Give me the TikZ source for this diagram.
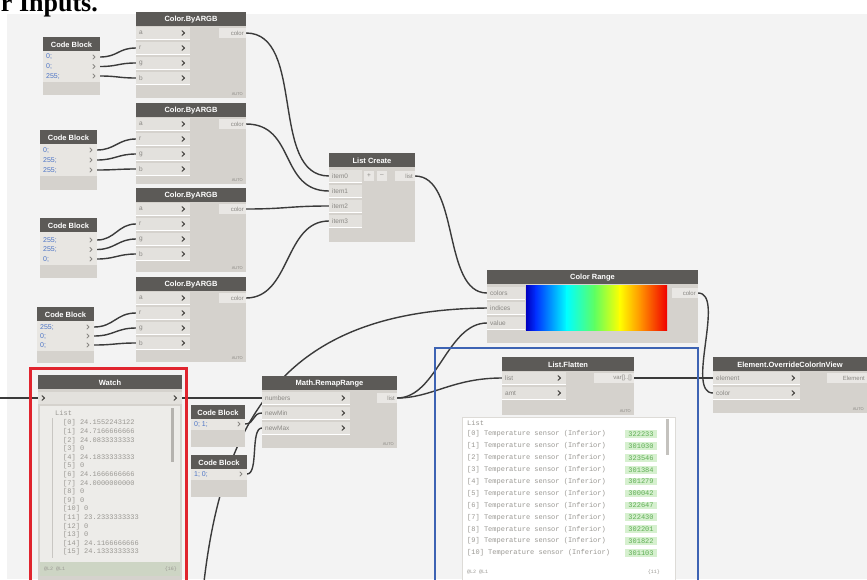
\documentclass[tikz,border=0pt]{standalone}
\usepackage{fontspec}
\setmainfont{Liberation Sans}
\setmonofont{Liberation Mono}
\newfontfamily\headlinefont{Liberation Serif}

\definecolor{canvasc}{HTML}{F3F3F3}
\definecolor{headc}{HTML}{5C5A57}
\definecolor{bodyc}{HTML}{D5D2CD}
\definecolor{portc}{HTML}{E3E1DD}
\definecolor{outc}{HTML}{E9E7E4}
\definecolor{cbarea}{HTML}{E8E6E2}
\definecolor{wirec}{HTML}{3A3A3A}
\definecolor{chevc}{HTML}{4A4845}
\definecolor{labelc}{HTML}{8A8884}
\definecolor{cbnum}{HTML}{4C74C6}
\definecolor{redf}{HTML}{E0242E}
\definecolor{bluef}{HTML}{3D63B3}
\definecolor{wtextc}{HTML}{9A9893}
\definecolor{statusc}{HTML}{CDD5C4}
\definecolor{gboxc}{HTML}{D6F0CF}
\definecolor{gtextc}{HTML}{5FAE55}
\definecolor{watchbg}{HTML}{EDECE9}
\definecolor{treeline}{HTML}{C8C6C2}
\definecolor{scrollc}{HTML}{B5B3AF}
\definecolor{prevline}{HTML}{DDDBD7}
\definecolor{prevscroll}{HTML}{C4C2BE}
\definecolor{grA}{HTML}{0000C0}
\definecolor{grB}{HTML}{0030FF}
\definecolor{grC}{HTML}{00FFFF}
\definecolor{grD}{HTML}{60FF60}
\definecolor{grE}{HTML}{FFFF00}
\definecolor{grF}{HTML}{FF8C00}
\definecolor{grG}{HTML}{F00000}

\pgfdeclarelayer{bglayer}
\pgfdeclarelayer{wirelayer}
\pgfsetlayers{bglayer,wirelayer,main}

\tikzset{
  ntitle/.style={text=white, font=\bfseries\fontsize{7.5}{8}\selectfont, inner sep=0pt},
  plabel/.style={text=labelc, font=\fontsize{6.5}{7}\selectfont, inner sep=0pt},
  olabel/.style={text=labelc, font=\fontsize{6}{7}\selectfont, inner sep=0pt},
  lace/.style={text=labelc, font=\fontsize{4}{5}\selectfont, inner sep=0pt},
  cbtext/.style={text=cbnum, font=\fontsize{7}{8}\selectfont, inner sep=0pt},
  wtext/.style={text=wtextc, font=\ttfamily\fontsize{7}{8}\selectfont, inner sep=0pt, anchor=west},
  gbox/.style={fill=gboxc, text=gtextc, font=\ttfamily\fontsize{7}{8}\selectfont, inner xsep=1.5pt, inner ysep=1.5pt, minimum width=32pt},
  wire/.style={draw=wirec, line width=1.4pt},
  chev/.style={draw=chevc, line width=1.1pt, line cap=round, line join=round},
  cbchev/.style={draw=labelc, line width=0.8pt, line cap=round, line join=round},
}

% node body with dark header and centred title
\newcommand\dynnode[6]{%
  \fill[bodyc] (#2,#3) rectangle (#4,#5);
  \fill[headc] (#2,#3) rectangle (#4,#3+14);
  \node[ntitle] (#1) at ({(#2+#4)/2},#3+7.5) {#6};
}
% input row without chevron
\newcommand\inrowp[5]{%
  \fill[portc] (#2,#4-6.5) rectangle (#3,#4+6.5);
  \draw[white, line width=0.5pt] (#2,#4+6.5) -- (#3,#4+6.5);
  \node[plabel, anchor=west] (#1-l) at (#2+3,#4) {#5};
  \coordinate (#1) at (#2,#4);
}
% input row with chevron
\newcommand\inrow[5]{%
  \inrowp{#1}{#2}{#3}{#4}{#5}
  \draw[chev] (#3-8,#4-2.3) -- (#3-5.5,#4) -- (#3-8,#4+2.3);
}
% output label at the right edge
\newcommand\outlbl[5]{%
  \fill[outc] (#2-#4,#3-5) rectangle (#2,#3+5);
  \node[olabel, anchor=east] (#1-l) at (#2-2,#3) {#5};
  \coordinate (#1) at (#2,#3);
}
\newcommand\lacing[3]{\node[lace, anchor=south east] (#1-lace) at (#2-3,#3-2) {AUTO};}
% code block
\newcommand\codeblock[6]{%
  \dynnode{#1}{#2}{#3}{#4}{#5}{Code Block}
  \fill[cbarea] (#2,#3+14) rectangle (#4,#6+6);
}
\newcommand\cbrow[5]{%
  \node[cbtext, anchor=west] (#1-t) at (#2+3,#4) {#5};
  \draw[cbchev] (#3-7,#4-2) -- (#3-5,#4) -- (#3-7,#4+2);
  \coordinate (#1) at (#3,#4);
}
% Color.ByARGB node
\newcommand\argbnode[3]{%
  \dynnode{#1}{136}{#2}{246}{#3}{Color.ByARGB}
  \inrow{#1-a}{136}{190}{#2+21}{a}
  \inrow{#1-r}{136}{190}{#2+36}{r}
  \inrow{#1-g}{136}{190}{#2+51}{g}
  \inrow{#1-b}{136}{190}{#2+66}{b}
  \outlbl{#1-o}{246}{#2+21}{27}{color}
  \lacing{#1}{246}{#3}
}
\newcommand\wirebz[3]{\draw[wire] (#1) .. controls +(#3,0) and +(-#3,0) .. (#2);}

\begin{document}
\begin{tikzpicture}[x=1pt,y=-1pt]
\useasboundingbox (0,0) rectangle (867,579);
\clip (0,0) rectangle (867,579);
\begin{pgfonlayer}{bglayer}
  \fill[white] (0,0) rectangle (867,579);
  \fill[canvasc] (7,14) rectangle (867,579);
\end{pgfonlayer}

% heading line above the canvas
\node[font=\headlinefont\bfseries\fontsize{26}{26}\selectfont, anchor=base east, inner sep=0pt] (title) at (98,11) {r Inputs.};

\coordinate (src) at (0,398);
\coordinate (bot) at (204,582);

% ---------- code blocks feeding the colour nodes ----------
\codeblock{cb1}{43}{37}{100}{95}{76}
\cbrow{cb1-1}{43}{100}{57}{0;}
\cbrow{cb1-2}{43}{100}{66.5}{0;}
\cbrow{cb1-3}{43}{100}{76}{255;}

\codeblock{cb2}{40}{130}{97}{190}{170}
\cbrow{cb2-1}{40}{97}{150}{0;}
\cbrow{cb2-2}{40}{97}{160}{255;}
\cbrow{cb2-3}{40}{97}{170}{255;}

\codeblock{cb3}{40}{218}{97}{278}{259}
\cbrow{cb3-1}{40}{97}{240}{255;}
\cbrow{cb3-2}{40}{97}{249.5}{255;}
\cbrow{cb3-3}{40}{97}{259}{0;}

\codeblock{cb4}{37}{307}{94}{363}{345}
\cbrow{cb4-1}{37}{94}{327}{255;}
\cbrow{cb4-2}{37}{94}{336}{0;}
\cbrow{cb4-3}{37}{94}{345}{0;}

% ---------- Color.ByARGB nodes ----------
\argbnode{c1}{12}{98}
\argbnode{c2}{103}{184}
\argbnode{c3}{188}{272}
\argbnode{c4}{277}{362}

% ---------- List Create ----------
\dynnode{lc}{329}{153}{415}{242}{List Create}
\inrowp{lc-0}{329}{362}{176}{item0}
\inrowp{lc-1}{329}{362}{191}{item1}
\inrowp{lc-2}{329}{362}{206}{item2}
\inrowp{lc-3}{329}{362}{221}{item3}
\fill[outc] (364,171) rectangle (374,181);
\node[plabel] (lc-plus) at (369,176) {+};
\fill[outc] (377,171) rectangle (387,181);
\node[plabel] (lc-minus) at (382,176) {\textendash};
\outlbl{lc-o}{415}{176}{20}{list}

% ---------- Color Range ----------
\dynnode{cr}{487}{270}{698}{343}{Color Range}
\inrowp{cr-c}{487}{525}{293}{colors}
\inrowp{cr-i}{487}{525}{308}{indices}
\inrowp{cr-v}{487}{525}{323}{value}
\shade[left color=grA, right color=grB] (526,285) rectangle (536,330);
\shade[left color=grB, right color=grC] (535.6,285) rectangle (567,330);
\shade[left color=grC, right color=grD] (566.6,285) rectangle (595,330);
\shade[left color=grD, right color=grE] (594.6,285) rectangle (620,330);
\shade[left color=grE, right color=grF] (619.6,285) rectangle (642,330);
\shade[left color=grF, right color=grG] (641.6,285) rectangle (667,330);
\outlbl{cr-o}{698}{293}{26}{color}

% ---------- Watch (framed in red) ----------
\dynnode{watch}{38}{375}{182}{600}{Watch}
\fill[portc] (38,392) rectangle (182,404);
\draw[chev] (42,395.7) -- (44.5,398) -- (42,400.3);
\draw[chev] (174,395.7) -- (176.5,398) -- (174,400.3);
\coordinate (watch-in) at (38,398);
\coordinate (watch-out) at (182,398);
\fill[watchbg] (40,406) rectangle (180,562);
\draw[treeline, line width=0.4pt] (52,418) -- (52,558);
\fill[scrollc] (171,408) rectangle (174,462);
\node[wtext] (wl-head) at (55,413) {List};
\foreach \v [count=\i from 0] in {24.1552243122, 24.7166666666, 24.0833333333, 0,
    24.1833333333, 0, 24.1666666666, 24.0000000000, 0, 0, 0, 23.2333333333, 0, 0,
    24.1166666666, 24.1333333333}
  \node[wtext] (wl\i) at (63,{423+8.6*\i}) {[\i] \v};
\fill[statusc] (40,562) rectangle (180,576);
\node[wtext, font=\ttfamily\fontsize{5}{6}\selectfont] (ws-l) at (44,569) {@L2 @L1};
\node[wtext, anchor=east, font=\ttfamily\fontsize{5}{6}\selectfont] (ws-r) at (177,569) {\{16\}};

% ---------- small code blocks ----------
\codeblock{scba}{191}{405}{245}{447}{424}
\cbrow{scba-1}{191}{245}{424}{0; 1;}
\codeblock{scbb}{191}{455}{247}{497}{474}
\cbrow{scbb-1}{191}{247}{474}{1; 0;}

% ---------- Math.RemapRange ----------
\dynnode{remap}{262}{376}{397}{448}{Math.RemapRange}
\inrow{remap-n}{262}{350}{398}{numbers}
\inrow{remap-min}{262}{350}{413}{newMin}
\inrow{remap-max}{262}{350}{428}{newMax}
\outlbl{remap-o}{397}{398}{20}{list}
\lacing{remap}{397}{448}

% ---------- List.Flatten and its preview ----------
\dynnode{lf}{502}{357}{634}{415}{List.Flatten}
\inrow{lf-l}{502}{566}{378}{list}
\inrow{lf-a}{502}{566}{393}{amt}
\outlbl{lf-o}{634}{378}{40}{var[]..[]}
\lacing{lf}{634}{415}

\fill[white] (462,417) rectangle (675,600);
\draw[prevline, line width=0.5pt] (462,417) rectangle (675,600);
\fill[prevscroll] (666,419) rectangle (669,455);
\node[wtext] (fl-head) at (467,423) {List};
\foreach \n [count=\i from 0] in {322233, 301030, 323546, 301384, 301279, 300042,
    322647, 322430, 302201, 301822, 301103}{
  \node[wtext] (fl\i) at (467,{434+11.9*\i}) {[\i] Temperature sensor (Inferior)};
  \node[gbox] (fg\i) at (641,{434+11.9*\i}) {\n};
}
\node[wtext, font=\ttfamily\fontsize{5}{6}\selectfont] (fs-l) at (467,572) {@L2 @L1};
\node[wtext, anchor=east, font=\ttfamily\fontsize{5}{6}\selectfont] (fs-r) at (660,572) {\{11\}};

% ---------- Element.OverrideColorInView ----------
\dynnode{el}{713}{357}{867}{413}{Element.OverrideColorInView}
\inrow{el-e}{713}{800}{378}{element}
\inrow{el-c}{713}{800}{393}{color}
\outlbl{el-o}{867}{378}{40}{Element}
\lacing{el}{867}{413}

% ---------- wires (drawn beneath the nodes) ----------
\begin{pgfonlayer}{wirelayer}
  \wirebz{cb1-1}{c1-r}{18}
  \wirebz{cb1-2}{c1-g}{18}
  \wirebz{cb1-3}{c1-b}{18}
  \wirebz{cb2-1}{c2-r}{18}
  \wirebz{cb2-2}{c2-g}{18}
  \wirebz{cb2-3}{c2-b}{18}
  \wirebz{cb3-1}{c3-r}{18}
  \wirebz{cb3-2}{c3-g}{18}
  \wirebz{cb3-3}{c3-b}{18}
  \wirebz{cb4-1}{c4-r}{20}
  \wirebz{cb4-2}{c4-g}{20}
  \wirebz{cb4-3}{c4-b}{20}
  \wirebz{c1-o}{lc-0}{60}
  \wirebz{c2-o}{lc-1}{50}
  \wirebz{c3-o}{lc-2}{40}
  \wirebz{c4-o}{lc-3}{45}
  \wirebz{lc-o}{cr-c}{45}
  \draw[wire] (src) -- (watch-in);
  \draw[wire] (watch-out) -- (remap-n);
  \wirebz{scba-1}{remap-min}{10}
  \wirebz{scbb-1}{remap-max}{12}
  \draw[wire] (bot) .. controls (225,400) and (300,310) .. (cr-i);
  \draw[wire] (remap-o) .. controls +(40,0) and +(-40,0) .. (cr-v);
  \draw[wire] (remap-o) .. controls +(35,0) and +(-50,0) .. (lf-l);
  \draw[wire] (lf-o) -- (el-e);
  \draw[wire] (cr-o) .. controls +(28,0) and +(-28,0) .. (el-c);
\end{pgfonlayer}

% ---------- group frames ----------
\draw[redf, line width=3pt] (30,368) rectangle (186,590);
\draw[bluef, line width=2.5pt] (435,348) rectangle (698,590);
\end{tikzpicture}
\end{document}
